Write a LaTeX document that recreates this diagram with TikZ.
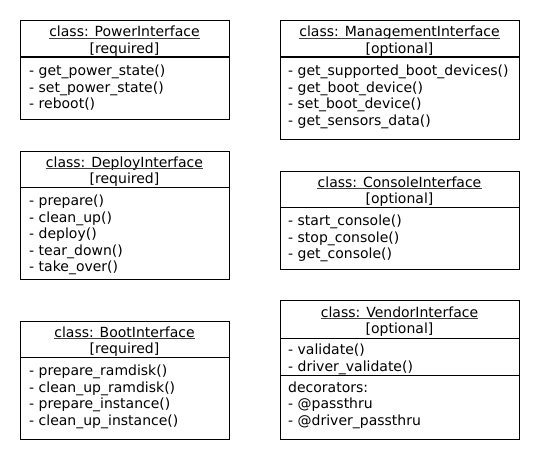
\documentclass[tikz,border=0pt]{standalone}
\usepackage{fontspec}
\setmainfont{DejaVu Sans}
\begin{document}
\begin{tikzpicture}[x=1pt,y=-1pt,
  box/.style={draw=black, line width=1pt},
  sep/.style={draw=black, line width=1pt},
  ttl/.style={anchor=base, inner sep=0pt, font=\fontsize{14}{16.5}\selectfont},
  itm/.style={anchor=base west, inner sep=0pt, font=\fontsize{14}{16.5}\selectfont},
  uline/.style={line width=0.8pt, black!75}]
\useasboundingbox (0,0) rectangle (540,460);

% ---------- PowerInterface ----------
\draw[box] (20,21) rectangle (229,119);
\draw[sep] (20,57) -- (229,57);
\node[ttl] (pT) at (124.5,37) {class: PowerInterface};
\draw[uline] ([yshift=-1.6pt]pT.base west) -- ([yshift=-1.6pt]pT.base east);
\node[ttl] (pS) at (124.5,53.5) {[required]};
\node[itm] (p1) at (29,75.5) {- get\_power\_state()};
\node[itm] (p2) at (29,92) {- set\_power\_state()};
\node[itm] (p3) at (29,108.5) {- reboot()};

% ---------- ManagementInterface ----------
\draw[box] (280,21) rectangle (519,139);
\draw[sep] (280,57) -- (519,57);
\node[ttl] (mT) at (399.5,37) {class: ManagementInterface};
\draw[uline] ([yshift=-1.6pt]mT.base west) -- ([yshift=-1.6pt]mT.base east);
\node[ttl] (mS) at (399.5,53.5) {[optional]};
\node[itm] (m1) at (288,75.5) {- get\_supported\_boot\_devices()};
\node[itm] (m2) at (288,92) {- get\_boot\_device()};
\node[itm] (m3) at (288,108.5) {- set\_boot\_device()};
\node[itm] (m4) at (288,125) {- get\_sensors\_data()};

% ---------- DeployInterface ----------
\draw[box] (20,151) rectangle (229,279);
\draw[sep] (20,187) -- (229,187);
\node[ttl] (dT) at (124.5,167) {class: DeployInterface};
\draw[uline] ([yshift=-1.6pt]dT.base west) -- ([yshift=-1.6pt]dT.base east);
\node[ttl] (dS) at (124.5,183.5) {[required]};
\node[itm] (d1) at (29,205.5) {- prepare()};
\node[itm] (d2) at (29,222) {- clean\_up()};
\node[itm] (d3) at (29,238.5) {- deploy()};
\node[itm] (d4) at (29,255) {- tear\_down()};
\node[itm] (d5) at (29,271.5) {- take\_over()};

% ---------- ConsoleInterface ----------
\draw[box] (280,171) rectangle (519,269);
\draw[sep] (280,207) -- (519,207);
\node[ttl] (cT) at (399.5,187) {class: ConsoleInterface};
\draw[uline] ([yshift=-1.6pt]cT.base west) -- ([yshift=-1.6pt]cT.base east);
\node[ttl] (cS) at (399.5,203.5) {[optional]};
\node[itm] (c1) at (288,225.5) {- start\_console()};
\node[itm] (c2) at (288,242) {- stop\_console()};
\node[itm] (c3) at (288,258.5) {- get\_console()};

% ---------- BootInterface ----------
\draw[box] (20,321) rectangle (229,439);
\draw[sep] (20,357) -- (229,357);
\node[ttl] (bT) at (124.5,337) {class: BootInterface};
\draw[uline] ([yshift=-1.6pt]bT.base west) -- ([yshift=-1.6pt]bT.base east);
\node[ttl] (bS) at (124.5,353.5) {[required]};
\node[itm] (b1) at (29,375.5) {- prepare\_ramdisk()};
\node[itm] (b2) at (29,392) {- clean\_up\_ramdisk()};
\node[itm] (b3) at (29,408.5) {- prepare\_instance()};
\node[itm] (b4) at (29,425) {- clean\_up\_instance()};

% ---------- VendorInterface ----------
\draw[box] (280,300) rectangle (519,439);
\draw[sep] (280,338) -- (519,338);
\draw[sep] (280,375) -- (519,375);
\node[ttl] (vT) at (399.5,317) {class: VendorInterface};
\draw[uline] ([yshift=-1.6pt]vT.base west) -- ([yshift=-1.6pt]vT.base east);
\node[ttl] (vS) at (399.5,333.5) {[optional]};
\node[itm] (v1) at (288,354.5) {- validate()};
\node[itm] (v2) at (288,371) {- driver\_validate()};
\node[itm] (v3) at (288,392) {decorators:};
\node[itm] (v4) at (288,408.5) {- @passthru};
\node[itm] (v5) at (288,425) {- @driver\_passthru};
\end{tikzpicture}
\end{document}
